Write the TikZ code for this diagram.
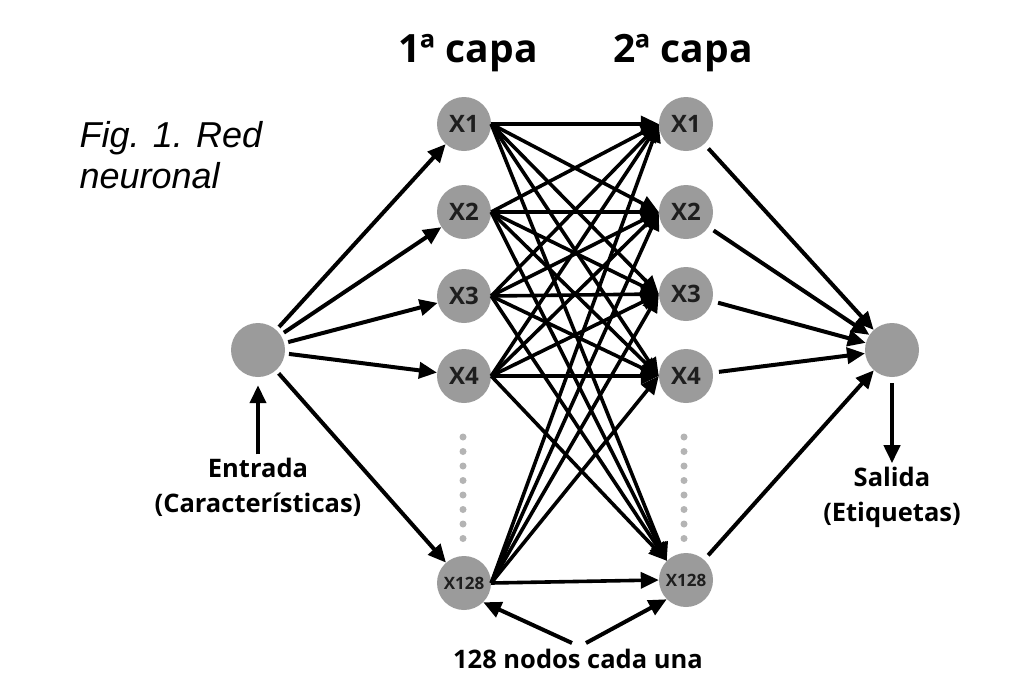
\documentclass[tikz,border=0pt]{standalone}
\usepackage{fontspec}
\setmainfont{Open Sans}
\newfontfamily\figfont{Liberation Sans}
\usetikzlibrary{arrows.meta}
\definecolor{nodegray}{RGB}{155,155,155}
\definecolor{dotgray}{RGB}{180,180,180}
\definecolor{labelc}{RGB}{30,30,30}
\begin{document}
\begin{tikzpicture}[x=1pt,y=-1pt,
  neuron/.style={circle,fill=nodegray,minimum size=54pt,inner sep=0pt,
    font=\bfseries\fontsize{24}{26}\selectfont,text=labelc},
  arr/.style={line width=4pt,-{Triangle[length=18pt,width=16pt]}},
  lbl/.style={font=\bfseries\fontsize{25.5}{35}\selectfont,align=center,text=black},
  title/.style={font=\bfseries\fontsize{39}{42}\selectfont,text=black},
  dotc/.style={circle,fill=dotgray,minimum size=7pt,inner sep=0pt}]
\useasboundingbox[fill=white] (0,0) rectangle (1022,673);

% titles
\node[title] (t1) at (468,53) {1ª capa};
\node[title] (t2) at (683,53) {2ª capa};
\node[font=\figfont\itshape\fontsize{36}{41}\selectfont,align=left,anchor=north west] (fig) at (76,118) {Fig. 1. Red\\neuronal};

% neurons
\node[neuron] (in) at (258,350) {};
\node[neuron] (out) at (892,350) {};
\node[neuron] (a1) at (464,124) {X1};
\node[neuron] (a2) at (464,212) {X2};
\node[neuron] (a3) at (464,296) {X3};
\node[neuron] (a4) at (464,376) {X4};
\node[neuron,font=\bfseries\fontsize{17}{18}\selectfont] (a5) at (464,583) {X128};
\node[neuron] (b1) at (686,124) {X1};
\node[neuron] (b2) at (686,212) {X2};
\node[neuron] (b3) at (686,294) {X3};
\node[neuron] (b4) at (686,376) {X4};
\node[neuron,font=\bfseries\fontsize{17}{18}\selectfont] (b5) at (686,580) {X128};

% dots
\foreach \k in {0,...,7} {
  \node[dotc] (dl\k) at (463,437+14.5*\k) {};
  \node[dotc] (dr\k) at (684,437+14.5*\k) {};
}

% input connections
\foreach \i in {1,...,5} \draw[arr,shorten <=4pt] (in) -- (a\i);

% between layers
\begin{scope}[arr/.append style={line width=3.6pt}]
\foreach \i in {1,...,5} {
  \foreach \j in {1,...,4} \draw[arr] (a\i.east) -- (b\j.west);
}
\foreach \i in {1,...,4} \draw[arr] (a\i.east) -- (b5.north west);
\draw[arr] (a5.east) -- (b5.west);
\end{scope}

% to output
\foreach \j in {1,...,5} \draw[arr,shorten <=6pt] (b\j) -- (out);

% labels
\node[lbl] (ent) at (258,487) {Entrada\\(Características)};
\draw[arr,shorten >=8pt] (ent.north) -- (in);
\node[lbl] (sal) at (892,497) {Salida\\(Etiquetas)};
\draw[arr,shorten <=6pt] (out) -- (sal.north);
\node[lbl,anchor=base] (cnt) at (578,668) {128 nodos cada una};
\coordinate (cl) at (572,643);
\coordinate (cr) at (586,643);
\draw[arr] (cl) -- (a5.south east);
\draw[arr] (cr) -- (b5.south west);
\end{tikzpicture}
\end{document}
